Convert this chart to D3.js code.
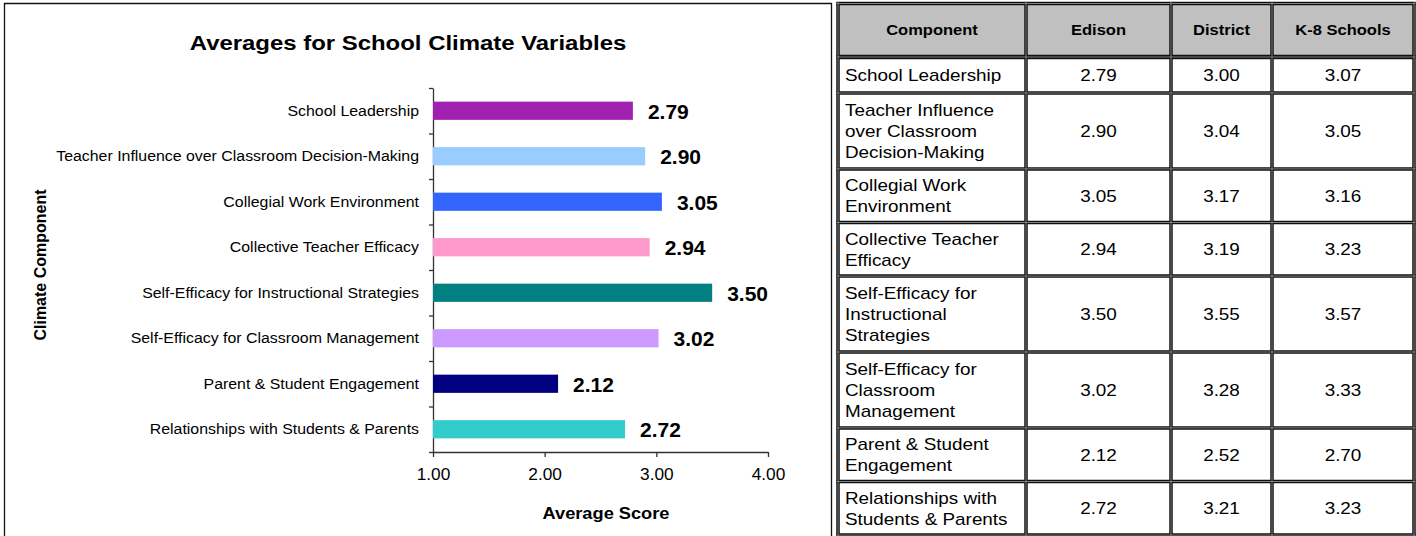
<!DOCTYPE html>
<html>
<head>
<meta charset="utf-8">
<script src="https://cdn.jsdelivr.net/npm/d3@7"></script>
<style>
  body { margin: 0; background: #fff; }
  svg text { font-family: Arial, "Liberation Sans", sans-serif; fill: #000; }
</style>
</head>
<body>
<svg id="chart" width="1416" height="536"></svg>
<script>
// chart data
const categories = [
  'School Leadership',
  'Teacher Influence over Classroom Decision-Making',
  'Collegial Work Environment',
  'Collective Teacher Efficacy',
  'Self-Efficacy for Instructional Strategies',
  'Self-Efficacy for Classroom Management',
  'Parent & Student Engagement',
  'Relationships with Students & Parents'
];
const edison = [2.79, 2.90, 3.05, 2.94, 3.50, 3.02, 2.12, 2.72];
const district = [3.00, 3.04, 3.17, 3.19, 3.55, 3.28, 2.52, 3.21];
const k8Schools = [3.07, 3.05, 3.16, 3.23, 3.57, 3.33, 2.70, 3.23];
const barColors = ['#a020b0', '#99ccff', '#3366ff', '#ff99cc', '#008080', '#cc99ff', '#000080', '#33cccc'];
const xTicks = [1, 2, 3, 4];

// table data
const tableHeaders = ['Component', 'Edison', 'District', 'K-8 Schools'];
const tableLabels = [
  ['School Leadership'],
  ['Teacher Influence', 'over Classroom', 'Decision-Making'],
  ['Collegial Work', 'Environment'],
  ['Collective Teacher', 'Efficacy'],
  ['Self-Efficacy for', 'Instructional', 'Strategies'],
  ['Self-Efficacy for', 'Classroom', 'Management'],
  ['Parent & Student', 'Engagement'],
  ['Relationships with', 'Students & Parents']
];

const svg = d3.select('#chart');
const fmt = d3.format('.2f');

// frame round the chart
svg.append('path')
  .attr('d', 'M4.5,540 V3.5 H831.5 V540')
  .attr('fill', 'none')
  .attr('stroke', '#111')
  .attr('stroke-width', 1.3);

const xScale = d3.scaleLinear().domain([1, 4]).range([433, 768]);
const yScale = d3.scaleBand().domain(categories).range([88, 452]);
const yIdx = d3.scaleLinear().domain([0, categories.length]).range([88, 452]);
const bh = yScale.bandwidth() * 0.4;

// y axis: line + ticks between categories
svg.append('g')
  .attr('transform', 'translate(433,0)')
  .call(d3.axisLeft(yIdx).tickValues(d3.range(categories.length + 1)).tickFormat('').tickSize(4).tickSizeOuter(0))
  .call(g => g.selectAll('path, line').attr('stroke', '#333').attr('stroke-width', 1.3));

// category labels
const sLab = 1.06;
svg.append('g')
  .attr('transform', 'translate(433,0)')
  .call(d3.axisLeft(yScale).tickSize(0).tickPadding(0))
  .call(g => g.select('.domain').remove())
  .call(g => g.selectAll('text')
    .attr('x', 0)
    .attr('transform', `translate(-14,0) scale(${sLab},1)`)
    .attr('font-size', 15)
    .attr('font-family', 'Arial, "Liberation Sans", sans-serif')
    .attr('fill', '#000'));

// x axis
svg.append('g')
  .attr('transform', 'translate(0,452)')
  .call(d3.axisBottom(xScale).tickValues(xTicks).tickFormat(fmt).tickSize(5).tickSizeOuter(0))
  .call(g => g.selectAll('path, line').attr('stroke', '#333').attr('stroke-width', 1.3))
  .call(g => g.selectAll('text')
    .attr('y', 0)
    .attr('dy', null)
    .attr('transform', 'translate(0,28) scale(1.08,1)')
    .attr('font-size', 16)
    .attr('font-family', 'Arial, "Liberation Sans", sans-serif')
    .attr('fill', '#000'));

// bars
svg.append('g').selectAll('rect')
  .data(edison)
  .join('rect')
  .attr('x', xScale(1))
  .attr('y', (d, i) => yScale(categories[i]) + yScale.bandwidth() / 2 - bh / 2)
  .attr('width', d => xScale(d) - xScale(1))
  .attr('height', bh)
  .attr('fill', (d, i) => barColors[i]);

// value labels
svg.append('g').selectAll('text')
  .data(edison)
  .join('text')
  .attr('transform', (d, i) => `translate(${xScale(d) + 15},${yScale(categories[i]) + yScale.bandwidth() / 2 + 8}) scale(1.05,1)`)
  .attr('font-size', 20)
  .attr('font-weight', 'bold')
  .text(d => fmt(d));

// titles
svg.append('text')
  .attr('transform', 'translate(408,50) scale(1.14,1)')
  .attr('text-anchor', 'middle')
  .attr('font-size', 21)
  .attr('font-weight', 'bold')
  .text('Averages for School Climate Variables');

svg.append('text')
  .attr('transform', 'translate(606,519) scale(1.14,1)')
  .attr('text-anchor', 'middle')
  .attr('font-size', 16)
  .attr('font-weight', 'bold')
  .text('Average Score');

svg.append('text')
  .attr('transform', 'translate(46,265) rotate(-90)')
  .attr('text-anchor', 'middle')
  .attr('font-size', 16)
  .attr('font-weight', 'bold')
  .text('Climate Component');

// ---- table ----
const colEdges = [838, 1026, 1171, 1272, 1414];
const headTop = 3.5, headBottom = 57;
const rowH = n => Math.max(36, 9 + 22.3 * n);
const rowEdges = [headBottom];
tableLabels.forEach(l => rowEdges.push(rowEdges[rowEdges.length - 1] + rowH(l.length)));
const sTab = 1.18;

const table = svg.append('g');

table.append('rect')
  .attr('x', colEdges[0]).attr('y', headTop)
  .attr('width', colEdges[4] - colEdges[0]).attr('height', headBottom - headTop)
  .attr('fill', '#c0c0c0');

table.selectAll('.head')
  .data(tableHeaders)
  .join('text')
  .attr('class', 'head')
  .attr('transform', (d, i) => `translate(${(colEdges[i] + colEdges[i + 1]) / 2},${(headTop + headBottom) / 2 + 5}) scale(${sTab},1)`)
  .attr('text-anchor', 'middle')
  .attr('font-size', 14)
  .attr('font-weight', 'bold')
  .text(d => d);

// component labels, wrapped as in the original
table.selectAll('.comp')
  .data(tableLabels)
  .join('text')
  .attr('class', 'comp')
  .attr('font-size', 16)
  .each(function(lines, i) {
    const mid = (rowEdges[i] + rowEdges[i + 1]) / 2;
    const top = mid - (lines.length - 1) * 21.3 / 2;
    d3.select(this).selectAll('tspan')
      .data(lines)
      .join('tspan')
      .attr('x', 0)
      .attr('y', (l, j) => j * 21.3)
      .text(l => l);
    d3.select(this).attr('transform', `translate(845,${top + 6}) scale(${sTab},1)`);
  });

// number columns
[edison, district, k8Schools].forEach((vals, c) => {
  table.append('g').selectAll('text')
    .data(vals)
    .join('text')
    .attr('transform', (d, i) => `translate(${(colEdges[c + 1] + colEdges[c + 2]) / 2},${(rowEdges[i] + rowEdges[i + 1]) / 2 + 6}) scale(${sTab},1)`)
    .attr('text-anchor', 'middle')
    .attr('font-size', 16)
    .text(d => fmt(d));
});

// grid lines (double style)
const hLines = [headTop].concat(rowEdges);
const drawLines = (sel, w) => {
  sel.append('g').selectAll('line')
    .data(hLines)
    .join('line')
    .attr('x1', colEdges[0] - 1.5).attr('x2', colEdges[4] + 1.5)
    .attr('y1', d => d).attr('y2', d => d)
    .attr('stroke', w.color)
    .attr('stroke-width', (d, i) => i === 1 ? w.head : w.size);
  sel.append('g').selectAll('line')
    .data(colEdges)
    .join('line')
    .attr('x1', d => d).attr('x2', d => d)
    .attr('y1', headTop - 1.5).attr('y2', 540)
    .attr('stroke', w.color)
    .attr('stroke-width', w.size);
};
drawLines(table, {color: '#111', size: 3.5, head: 4.5});
drawLines(table, {color: '#808080', size: 1, head: 1});
</script>
</body>
</html>
